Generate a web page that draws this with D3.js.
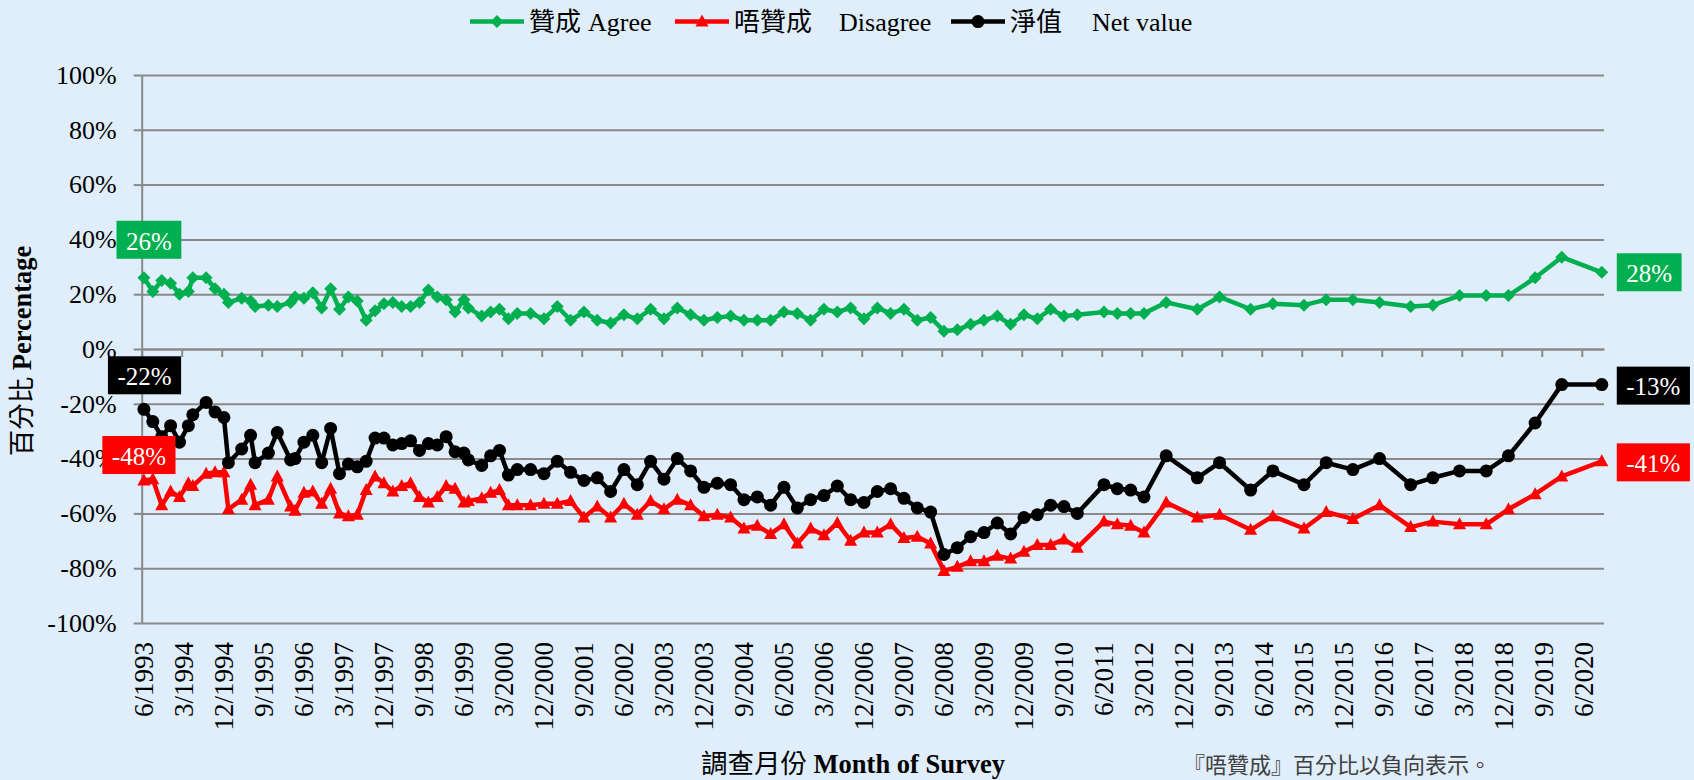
<!DOCTYPE html>
<html>
<head>
<meta charset="utf-8">
<script src="https://cdn.jsdelivr.net/npm/d3@7"></script>
<style>
  body { margin: 0; background: #dfeefa; }
  text { font-family: "Liberation Serif", "Times New Roman", "Noto Sans CJK TC", serif; }
</style>
</head>
<body>
<svg id="chart" width="1694" height="780"></svg>
<script>
// survey months (yyyy-mm)
var months = ["1993-06","1993-08","1993-10","1993-12","1994-02","1994-04","1994-05","1994-08","1994-10","1994-12",
  "1995-01","1995-04","1995-06","1995-07","1995-10","1995-12","1996-03","1996-04","1996-06","1996-08",
  "1996-10","1996-12","1997-02","1997-04","1997-06","1997-08","1997-10","1997-12","1998-02","1998-04",
  "1998-06","1998-08","1998-10","1998-12","1999-02","1999-04","1999-06","1999-07","1999-10","1999-12",
  "2000-02","2000-04","2000-06","2000-09","2000-12","2001-03","2001-06","2001-09","2001-12","2002-03",
  "2002-06","2002-09","2002-12","2003-03","2003-06","2003-09","2003-12","2004-03","2004-06","2004-09",
  "2004-12","2005-03","2005-06","2005-09","2005-12","2006-03","2006-06","2006-09","2006-12","2007-03",
  "2007-06","2007-09","2007-12","2008-03","2008-06","2008-09","2008-12","2009-03","2009-06","2009-09",
  "2009-12","2010-03","2010-06","2010-09","2010-12","2011-06","2011-09","2011-12","2012-03","2012-08",
  "2013-03","2013-08","2014-03","2014-08","2015-03","2015-08","2016-02","2016-08","2017-03","2017-08",
  "2018-02","2018-08","2019-01","2019-07","2020-01","2020-10"];

var agree = [26,21,25,24,20,21,26,26,22,20,
  17,18.5,17.5,15.5,16,15.5,17,19,18.5,20.5,
  15,22,14.5,19,17.5,10.5,14,16.5,17,15.5,
  15.5,17,21.5,19,18,13.5,18,15,12,13.5,
  14.5,11,13,13,11,15.5,10.5,13.5,10.5,9.5,
  12.5,11,14.5,11,15,12.5,10.5,11.5,12,10.5,
  10.5,10.5,13.5,13,10.5,14.5,13.5,15,11,15,
  13,14.5,10.5,11.5,6.5,7,9,10.5,12,9,
  12.5,11,14.5,12,12.5,13.5,13,13,13,17,
  14.5,19,14.5,16.5,16,18,18,17,15.5,16,
  19.5,19.5,19.5,26,33.5,28];

var disagree = [-48,-47.5,-57,-52,-54,-49,-50,-45.5,-45,-45,
  -58.5,-55,-49.5,-57,-55,-46.5,-57.5,-59,-52.5,-52,
  -56.5,-51,-60,-61,-60.5,-51.5,-46.5,-49,-52,-50,
  -49,-54,-56,-54,-50,-51,-56,-55.5,-54.5,-52.5,
  -51.5,-57,-57,-57,-56.5,-56.5,-55.5,-61.5,-57.5,-61.5,
  -56.5,-60.5,-55.5,-58.5,-55,-57,-61,-60.5,-61.5,-65.5,
  -64.5,-67.5,-64,-71,-65.5,-68,-63.5,-70,-67,-67,
  -64,-69,-68.5,-71,-81,-79.5,-77.5,-77.5,-75.5,-76.5,
  -74,-71.5,-71.5,-69.5,-72.5,-63,-64,-64.5,-67,-56,
  -61.5,-60.5,-66,-61,-65.5,-59.5,-62,-57,-65,-63,
  -64,-64,-58.5,-53,-46.5,-41];

var net = [-22,-26.5,-32,-28,-34,-28,-24,-19.5,-23,-25,
  -41.5,-36.5,-31.5,-41.5,-38,-30.5,-40.5,-40,-34,-31.5,
  -41.5,-29,-45.5,-42,-43,-41,-32.5,-32.5,-35,-34.5,
  -33.5,-37,-34.5,-35,-32,-37.5,-38,-40.5,-42.5,-39,
  -37,-46,-44,-44,-45.5,-41,-45,-48,-47,-52,
  -44,-49.5,-41,-47.5,-40,-44.5,-50.5,-49,-49.5,-55,
  -54,-57,-50.5,-58,-55,-53.5,-50,-55,-56,-52,
  -51,-54.5,-58,-59.5,-75,-72.5,-68.5,-67,-63.5,-67.5,
  -61.5,-60.5,-57,-57.5,-60,-49.5,-51,-51.5,-54,-39,
  -47,-41.5,-51.5,-44.5,-49.5,-41.5,-44,-40,-49.5,-47,
  -44.5,-44.5,-39,-27,-13,-13];

var yTicks = [100, 80, 60, 40, 20, 0, -20, -40, -60, -80, -100];

var xTickLabels = ["6/1993","3/1994","12/1994","9/1995","6/1996","3/1997","12/1997","9/1998","6/1999",
  "3/2000","12/2000","9/2001","6/2002","3/2003","12/2003","9/2004","6/2005","3/2006","12/2006",
  "9/2007","6/2008","3/2009","12/2009","9/2010","6/2011","3/2012","12/2012","9/2013","6/2014",
  "3/2015","12/2015","9/2016","6/2017","3/2018","12/2018","9/2019","6/2020"];

var seriesCjk = ["贊成", "唔贊成", "淨值"];
var seriesEng = ["Agree", "Disagree", "Net value"];
var seriesColors = ["#00b050", "#ff0000", "#000000"];

var gridColor = "#898989";
var serif = "'Liberation Serif', 'Times New Roman', serif";
var svg = d3.select("#chart");
var plot = {left: 141.7, right: 1604, top: 75, bottom: 623};

// month slots since 6/1993, like excel's month based date axis
function monthIdx(s) { var p = s.split("-"); return (+p[0] - 1993) * 12 + (+p[1] - 6); }
function labelIdx(s) { var p = s.split("/"); return (+p[1] - 1993) * 12 + (+p[0] - 6); }

var x = d3.scaleLinear().domain([0, 329]).range([plot.left, plot.right]);
var y = d3.scaleLinear().domain([-100, 100]).range([plot.bottom, plot.top]);

svg.append("rect").attr("width", 1694).attr("height", 780).attr("fill", "#dfeefa");

// gridlines
var grid = svg.append("g")
  .attr("transform", "translate(" + plot.left + ",0)")
  .call(d3.axisLeft(y).tickValues(yTicks).tickSize(-(plot.right - plot.left)).tickSizeOuter(0).tickFormat(""));
grid.select(".domain").remove();
grid.selectAll("line").attr("stroke", gridColor).attr("stroke-width", 2);

// y axis
var yAx = svg.append("g")
  .attr("transform", "translate(" + plot.left + ",0)")
  .call(d3.axisLeft(y).tickValues(yTicks).tickSize(8).tickSizeOuter(0).tickPadding(17)
    .tickFormat(function(d) { return d + "%"; }));
yAx.attr("font-family", serif);
yAx.select(".domain").attr("stroke", gridColor).attr("stroke-width", 2);
yAx.selectAll("line").attr("stroke", gridColor).attr("stroke-width", 2);
yAx.selectAll("text").attr("font-size", "26px").attr("fill", "#000")
  .style("font-family", serif);

// x axis ticks on the 0% line
var tickIdx = xTickLabels.map(labelIdx);
var xAx = svg.append("g")
  .attr("transform", "translate(0," + y(0) + ")")
  .call(d3.axisBottom(x).tickValues(tickIdx).tickSize(8).tickSizeOuter(0).tickFormat(""));
xAx.select(".domain").attr("stroke", gridColor).attr("stroke-width", 2);
xAx.selectAll("line").attr("stroke", gridColor).attr("stroke-width", 2);

// x labels at the bottom, rotated
svg.append("g").selectAll("text")
  .data(xTickLabels)
  .join("text")
    .attr("transform", function(d) { return "translate(" + x(labelIdx(d) + 0.5) + ",642) rotate(-90)"; })
    .attr("text-anchor", "end")
    .attr("dy", "0.35em")
    .attr("font-size", "27px")
    .style("font-family", serif)
    .text(function(d) { return d; });

// markers
function marker(sel, i) {
  if (i == 0) {
    sel.append("path").attr("d", "M0,-6.5L6.5,0L0,6.5L-6.5,0Z").attr("fill", seriesColors[0]);
  } else if (i == 1) {
    sel.append("path").attr("d", "M0,-7L6.5,5L-6.5,5Z").attr("fill", seriesColors[1]);
  } else {
    sel.append("circle").attr("r", 6.5).attr("fill", seriesColors[2]);
  }
}

var allSeries = [agree, disagree, net];
var line = d3.line()
  .x(function(d) { return x(d.m + 0.5); })
  .y(function(d) { return y(d.v); });

allSeries.forEach(function(vals, i) {
  var pts = months.map(function(m, j) { return {m: monthIdx(m), v: vals[j]}; });
  var g = svg.append("g");
  g.append("path")
    .datum(pts)
    .attr("d", line)
    .attr("fill", "none")
    .attr("stroke", seriesColors[i])
    .attr("stroke-width", 4.5)
    .attr("stroke-linejoin", "round");
  g.selectAll("g.mk")
    .data(pts)
    .join("g")
      .attr("class", "mk")
      .attr("transform", function(d) { return "translate(" + x(d.m + 0.5) + "," + y(d.v) + ")"; })
      .each(function() { marker(d3.select(this), i); });
});

// data labels on first and last points
var labelPos = [
  [{dx: 5, dy: -38}, {dx: 15, dy: 0}],
  [{dx: -5, dy: -25.5}, {dx: 15, dy: 1}],
  [{dx: 0.6, dy: -34}, {dx: 15, dy: 1}]
];
allSeries.forEach(function(vals, i) {
  [0, vals.length - 1].forEach(function(j, k) {
    var px = x(monthIdx(months[j]) + 0.5), py = y(vals[j]);
    var g = svg.append("g");
    var t = g.append("text")
      .attr("font-size", "25px")
      .attr("fill", "#fff")
      .attr("dy", "0.35em")
      .text(Math.round(vals[j]) + "%");
    var w = t.node().getComputedTextLength() + 19, h = 38;
    var cx = k == 0 ? px + labelPos[i][0].dx : px + labelPos[i][1].dx + w / 2;
    var cy = py + labelPos[i][k].dy;
    g.insert("rect", "text")
      .attr("x", cx - w / 2).attr("y", cy - h / 2)
      .attr("width", w).attr("height", h)
      .attr("fill", seriesColors[i]);
    t.attr("x", cx).attr("y", cy + 1).attr("text-anchor", "middle");
  });
});

// legend
var legendX = [470, 675, 951];
var legendGap = [7, 27, 30];
seriesCjk.forEach(function(name, i) {
  var g = svg.append("g").attr("transform", "translate(" + legendX[i] + ",21.6)");
  g.append("line").attr("x1", 0).attr("x2", 54)
    .attr("stroke", seriesColors[i]).attr("stroke-width", 4.5);
  var m = g.append("g").attr("transform", "translate(27,0)");
  marker(m, i);
  var t = g.append("text").attr("x", 59).attr("dy", "0.35em").attr("font-size", "26px");
  t.append("tspan").text(name);
  t.append("tspan").attr("dx", legendGap[i]).text(seriesEng[i]);
});

// axis titles
var yt = svg.append("text")
  .attr("transform", "translate(21.6,351) rotate(-90)")
  .attr("text-anchor", "middle")
  .attr("dy", "0.35em")
  .attr("font-size", "26.5px");
yt.append("tspan").text("百分比 ");
yt.append("tspan").attr("font-weight", "bold").text("Percentage");

var xt = svg.append("text")
  .attr("x", 853).attr("y", 764)
  .attr("text-anchor", "middle")
  .attr("dy", "0.35em")
  .attr("font-size", "26.5px");
xt.append("tspan").text("調查月份 ");
xt.append("tspan").attr("font-weight", "bold").text("Month of Survey");

svg.append("text")
  .attr("x", 1183).attr("y", 765)
  .attr("dy", "0.35em")
  .attr("font-size", "22px")
  .attr("fill", "#404040")
  .style("font-family", "'Noto Sans CJK TC', sans-serif")
  .text("『唔贊成』百分比以負向表示。");
</script>
</body>
</html>
